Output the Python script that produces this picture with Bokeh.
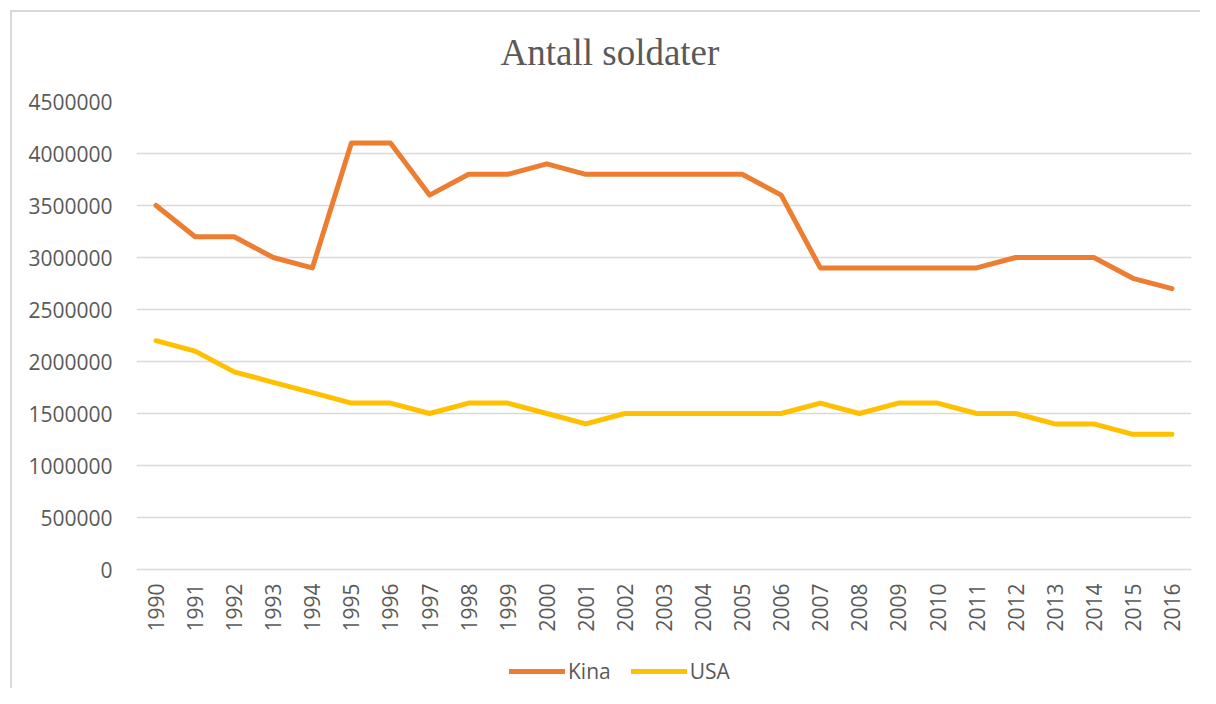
from bokeh.plotting import figure
from bokeh.models import FactorRange, Range1d, FixedTicker, BasicTickFormatter, Legend, LegendItem, Title, InlineStyleSheet
from bokeh.embed import file_html
from bokeh.resources import INLINE
import math

years = [str(y) for y in range(1990, 2017)]
kina = [3500000, 3200000, 3200000, 3000000, 2900000, 4100000, 4100000, 3600000, 3800000,
        3800000, 3900000, 3800000, 3800000, 3800000, 3800000, 3800000, 3600000, 2900000,
        2900000, 2900000, 2900000, 2900000, 3000000, 3000000, 3000000, 2800000, 2700000]
usa = [2200000, 2100000, 1900000, 1800000, 1700000, 1600000, 1600000, 1500000, 1600000,
       1600000, 1500000, 1400000, 1500000, 1500000, 1500000, 1500000, 1500000, 1600000,
       1500000, 1600000, 1600000, 1500000, 1500000, 1400000, 1400000, 1300000, 1300000]
y_ticks = [0, 500000, 1000000, 1500000, 2000000, 2500000, 3000000, 3500000, 4000000, 4500000]
title_text = "Antall soldater"
series_names = ["Kina", "USA"]
series_colors = ["#ED7D31", "#FFC000"]

TEXT = "#595959"
FONT = "Open Sans"

# layout: plot area spans 468px for the data, plus 119px of room below zero for labels and legend
DATA_PX = 468
BELOW_PX = 119
y_max = y_ticks[-1]
y_min = -y_max * BELOW_PX / DATA_PX

p = figure(frame_width=1055, frame_height=DATA_PX + BELOW_PX,
           x_range=FactorRange(*years, range_padding=0, factor_padding=0),
           y_range=Range1d(y_min, y_max), output_backend="svg", toolbar_location=None,
           min_border_left=136, min_border_right=9, min_border_top=101, min_border_bottom=0)
p.stylesheets = [InlineStyleSheet(css=(
    ":host { position: relative; }"
    ":host::after { content: ''; position: absolute; left: 10px; top: 10px; "
    "width: calc(100% - 10px); height: calc(100% - 10px); box-sizing: border-box; "
    "border-left: 2px solid #d9d9d9; border-top: 2px solid #d9d9d9; "
    "pointer-events: none; z-index: 10; }"))]
p.outline_line_color = None
p.background_fill_color = "white"
p.border_fill_color = "white"

t = Title(text=title_text, text_font="Liberation Serif", text_font_size="37px",
          text_color=TEXT, text_font_style="normal", align="left", offset=364, standoff=57)
p.add_layout(t, "above")

r1 = p.line(years, kina, line_color=series_colors[0], line_width=5, line_join="round", line_cap="round")
r2 = p.line(years, usa, line_color=series_colors[1], line_width=5, line_join="round", line_cap="round")

p.xgrid.grid_line_color = None
p.ygrid.grid_line_color = "#d9d9d9"
p.ygrid.grid_line_width = 1.5

p.yaxis.ticker = FixedTicker(ticks=y_ticks)
p.yaxis.formatter = BasicTickFormatter(use_scientific=False)
for ax in (p.xaxis, p.yaxis):
    ax.axis_line_color = None
    ax.major_tick_line_color = None
    ax.minor_tick_line_color = None
    ax.major_tick_out = 0
    ax.major_tick_in = 0
    ax.major_label_text_font = FONT
    ax.major_label_text_font_size = "21px"
    ax.major_label_text_color = TEXT
p.yaxis.major_label_standoff = 24
p.xaxis.major_label_standoff = 14 - BELOW_PX
p.xaxis.major_label_orientation = math.pi / 2

legend = Legend(items=[LegendItem(label=series_names[0], renderers=[r1]),
                       LegendItem(label=series_names[1], renderers=[r2])],
                orientation="horizontal", location=(373, 3), border_line_color=None,
                background_fill_alpha=0, padding=0, margin=0, spacing=20,
                glyph_width=56, label_standoff=3, label_text_font=FONT,
                label_text_font_size="21px", label_text_color=TEXT)
p.add_layout(legend, "center")

open("out.html", "w").write(file_html(p, INLINE))
